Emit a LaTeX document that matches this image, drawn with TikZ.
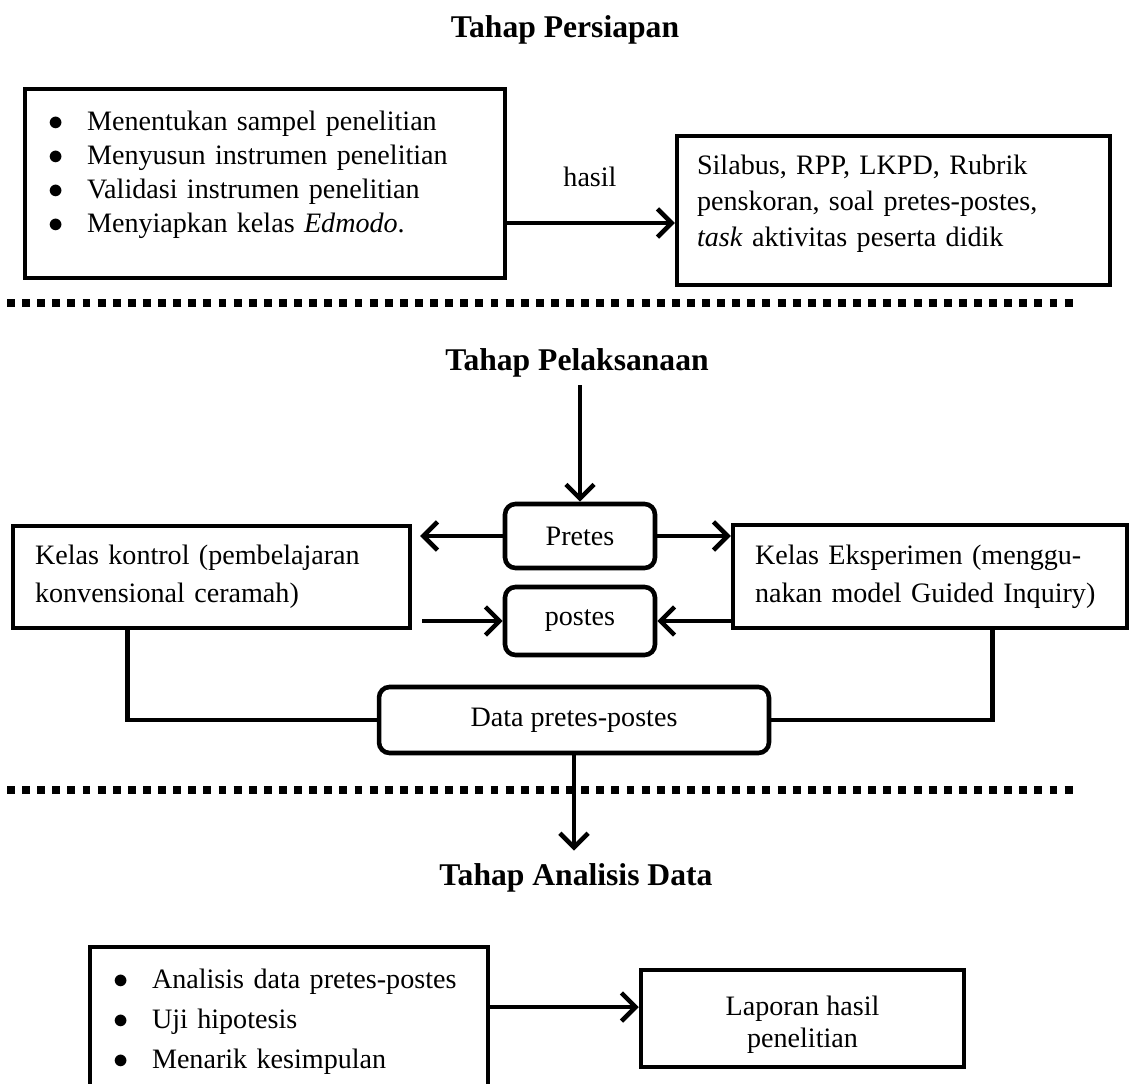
\documentclass[tikz,border=0pt]{standalone}
\usepackage{fontspec}
\setmainfont{Liberation Serif}
\usetikzlibrary{arrows.meta, positioning}
\tikzset{
	kotak/.style={draw, line width=2.6pt, inner sep=0pt, font=\fontsize{16}{20}\selectfont}
}
\tikzset{
	bulat/.style={kotak, rounded corners=6pt, align=center}
}
\tikzset{
	judul/.style={font=\fontsize{18}{22}\selectfont\bfseries}
}
\tikzset{
	sekat/.style={line width=4pt, dash pattern=on 4.5pt off 4.1pt}
}
\newcommand{\butir}[1]{\makebox[0.78cm][l]{$\bullet$}#1}
\newcommand{\ganjal}[1]{\rule[-#1]{0pt}{0pt}}

\begin{document}
\begin{tikzpicture}[x=0.02cm, y=-0.02cm, >={Straight Barb[length=8pt,width=16pt]}, line width=2.6pt]
      \useasboundingbox (0,0) rectangle (1130,1084);
      % tahap persiapan
      \node[judul] (persiapan) at (565,30) {Tahap Persiapan};
      \node[kotak, minimum width=9.6cm, minimum height=3.78cm, text width=8.68cm, inner xsep=0.46cm,
            align=left, font=\fontsize{16}{19.3}\selectfont] (siap) at (265,183.5)
            {\butir{Menentukan sampel penelitian}\\ \butir{Menyusun instrumen penelitian}\\
             \butir{Validasi instrumen penelitian}\\ \butir{Menyiapkan kelas \textit{Edmodo}.}\ganjal{13pt}};
      \node[kotak, minimum width=8.66cm, minimum height=2.98cm, text width=7.86cm, inner xsep=0.4cm,
            align=left, font=\fontsize{16}{20.4}\selectfont] (produk) at (893.5,210.5)
            {Silabus, RPP, LKPD, Rubrik\\ penskoran, soal pretes-postes,\\ \textit{task} aktivitas peserta didik\ganjal{11pt}};
      \node[font=\fontsize{16}{20}\selectfont] (hasil) at (590,177) {hasil};
      \coordinate (hasilrow) at ([yshift=-0.79cm]siap.east);
      \draw[->] (hasilrow) -- (hasilrow -| produk.west);
      \draw[sekat] (7,303) -- (1077,303);
      % tahap pelaksanaan
      \node[judul] (pelaksanaan) at (577,363) {Tahap Pelaksanaan};
      \node[bulat, minimum width=3cm, minimum height=1.28cm] (pretes) at (580,536) {Pretes};
      \node[bulat, minimum width=3cm, minimum height=1.36cm] (postes) at (580,621) {postes};
      \node[kotak, minimum width=7.94cm, minimum height=2.04cm, text width=7.06cm, inner xsep=0.44cm,
            align=left, font=\fontsize{16}{21.5}\selectfont] (kontrol) at (211.5,577)
            {Kelas kontrol (pembelajaran\\ konvensional ceramah)};
      \node[kotak, minimum width=7.88cm, minimum height=2.06cm, text width=7.0cm, inner xsep=0.44cm,
            align=left, font=\fontsize{16}{21.5}\selectfont] (eksperimen) at (930,576.5)
            {Kelas Eksperimen (menggu-\\ nakan model Guided Inquiry)};
      \node[bulat, minimum width=7.8cm, minimum height=1.32cm] (data) at (574,720) {Data pretes-postes};
      \draw[->] (pretes.north |- pelaksanaan.south) -- (pretes.north);
      \draw[->, shorten >=0.16cm] (pretes.west) -- (pretes.west -| kontrol.east);
      \draw[->] (pretes.east) -- (pretes.east -| eksperimen.west);
      \draw[->, shorten <=0.2cm] (postes.west -| kontrol.east) -- (postes.west);
      \draw[->] (postes.east -| eksperimen.west) -- (postes.east);
      \draw ([xshift=2.34cm]kontrol.south west) |- (data.west);
      \draw ([xshift=-2.74cm]eksperimen.south east) |- (data.east);
      \draw[sekat] (7,790) -- (1077,790);
      % tahap analisis data
      \node[judul] (analisis) at (576,878) {Tahap Analisis Data};
      \draw[->, shorten >=0.1cm] (data.south) -- (data.south |- analisis.north);
      \node[kotak, minimum width=7.96cm, minimum height=3.0cm, text width=7.04cm, inner xsep=0.46cm,
            align=left, font=\fontsize{16}{22.7}\selectfont] (olah) at (289,1022)
            {\butir{Analisis data pretes-postes}\\ \butir{Uji hipotesis}\\ \butir{Menarik kesimpulan}};
      \node[kotak, minimum width=6.46cm, minimum height=1.94cm, align=center,
            font=\fontsize{16}{18.1}\selectfont] (laporan) at (802.5,1018.5)
            {\rule{0pt}{18pt}Laporan hasil\\ penelitian};
      \coordinate (laporrow) at ([yshift=0.23cm]laporan.west);
      \draw[->] (laporrow -| olah.east) -- (laporrow);
    \end{tikzpicture}
\end{document}
